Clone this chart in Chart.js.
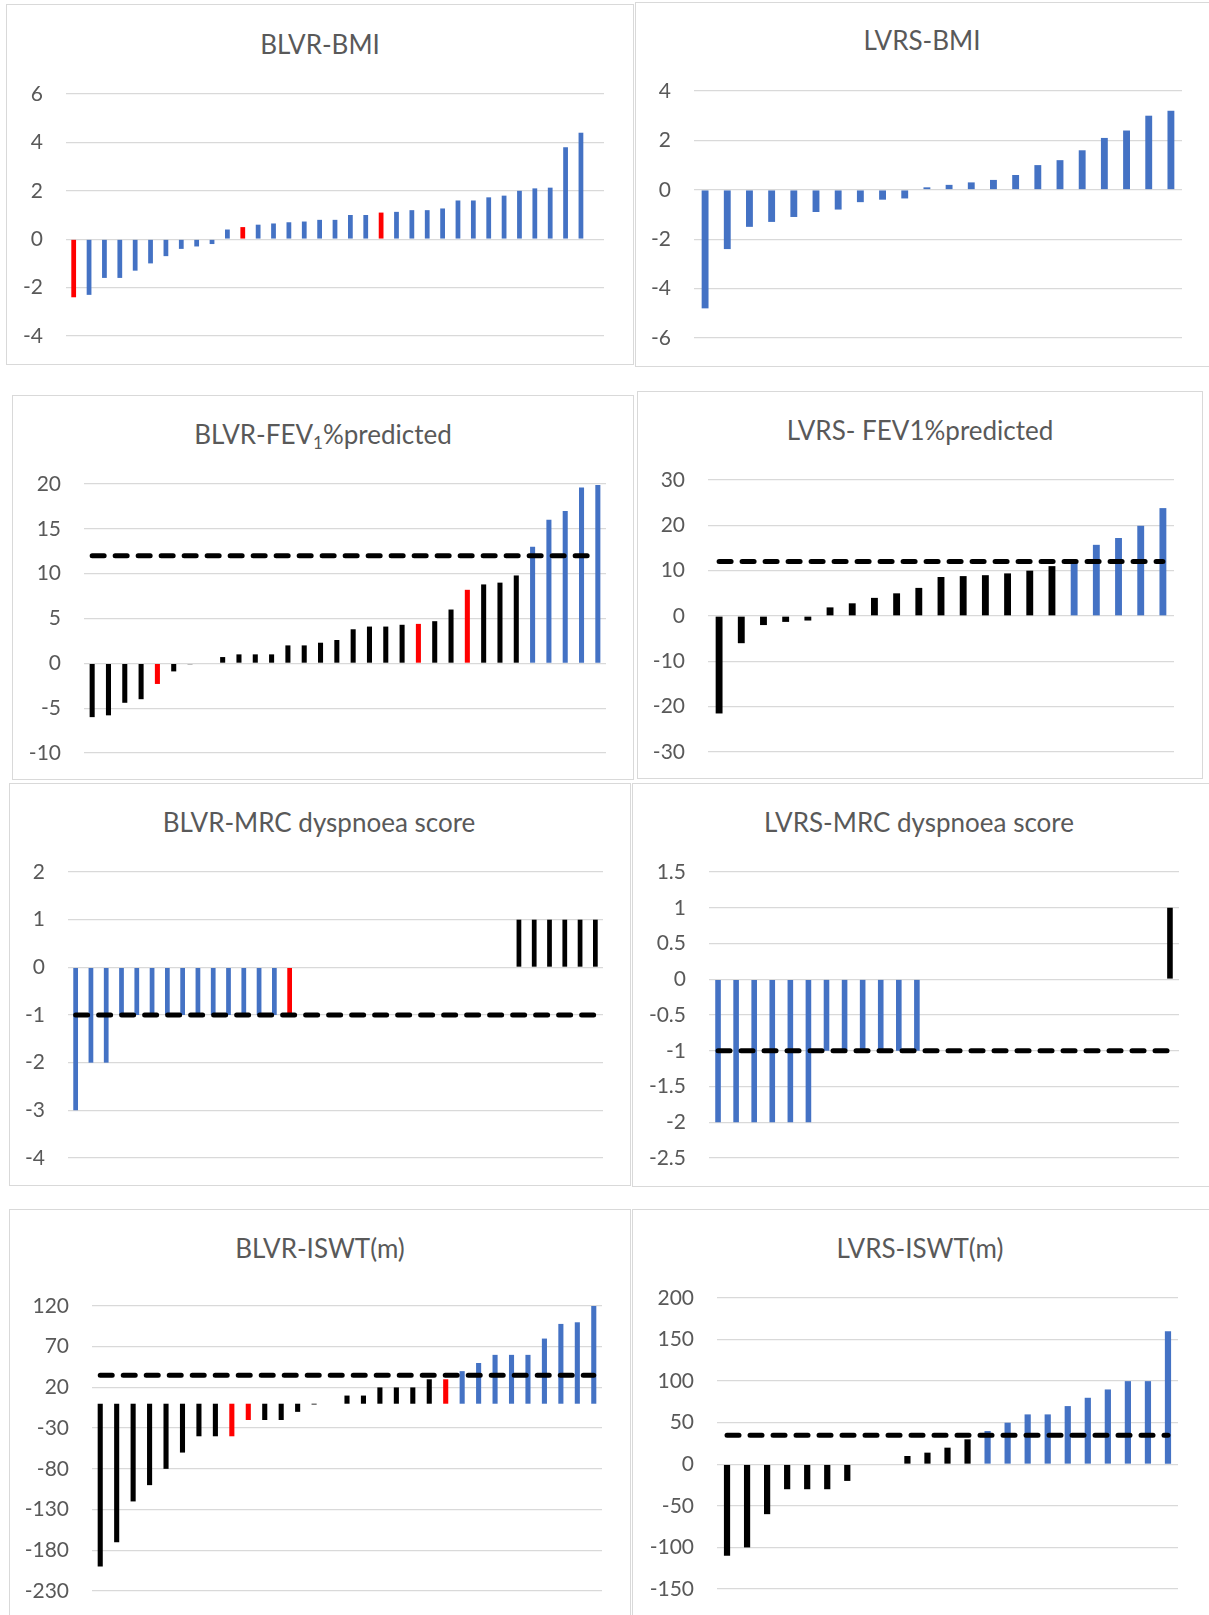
<!DOCTYPE html>
<html><head><meta charset="utf-8">
<script src="https://cdn.jsdelivr.net/npm/chart.js@4.4.1/dist/chart.umd.min.js"></script>
<style>
html,body{margin:0;padding:0;background:#fff;}
body{width:1209px;height:1615px;position:relative;overflow:hidden;font-family:Lato,"Noto Sans",sans-serif;}
.panel{position:absolute;border:1.5px solid #D9D9D9;box-sizing:border-box;}
.title{position:absolute;font-size:26px;color:#595959;height:30px;line-height:30px;white-space:nowrap;transform:translateX(-50%);}
.title sub{font-size:17px;line-height:0;vertical-align:-5px;}
.cw{position:absolute;}
</style></head><body>
<script>
// ---------- DATA ----------
const blvrBmiValues = [-2.4, -2.3, -1.6, -1.6, -1.3, -1.0, -0.7, -0.4, -0.3, -0.2, 0.4, 0.5, 0.6, 0.65, 0.7, 0.73, 0.8, 0.8, 1.0, 1.0, 1.1, 1.13, 1.2, 1.2, 1.27, 1.6, 1.6, 1.73, 1.8, 2.0, 2.1, 2.13, 3.8, 4.4, null];
const blvrBmiGroups = ['R','B','B','B','B','B','B','B','B','B','B','R','B','B','B','B','B','B','B','B','R','B','B','B','B','B','B','B','B','B','B','B','B','B','B'];

const lvrsBmiValues = [-4.8, -2.4, -1.5, -1.3, -1.1, -0.9, -0.8, -0.5, -0.4, -0.35, 0.1, 0.2, 0.3, 0.4, 0.6, 1.0, 1.2, 1.6, 2.1, 2.4, 3.0, 3.2];
const lvrsBmiGroups = ['B','B','B','B','B','B','B','B','B','B','B','B','B','B','B','B','B','B','B','B','B','B'];

const blvrFevValues = [-6.0, -5.8, -4.4, -4.0, -2.3, -0.9, -0.1, 0, 0.7, 1.0, 1.0, 1.0, 2.0, 2.0, 2.3, 2.6, 3.8, 4.1, 4.1, 4.3, 4.4, 4.7, 6.0, 8.2, 8.8, 9.0, 9.8, 13.0, 16.0, 17.0, 19.6, 19.9];
const blvrFevGroups = ['K','K','K','K','R','K','K','K','K','K','K','K','K','K','K','K','K','K','K','K','R','K','K','R','K','K','K','B','B','B','B','B'];

const lvrsFevValues = [-21.5, -6.0, -2.0, -1.3, -1.0, 1.9, 2.8, 4.0, 5.0, 6.2, 8.6, 8.8, 9.0, 9.4, 10.0, 11.0, 12.0, 15.7, 17.2, 19.9, 23.8];
const lvrsFevGroups = ['K','K','K','K','K','K','K','K','K','K','K','K','K','K','K','K','B','B','B','B','B'];

const blvrMrcValues = [-3, -2, -2, -1, -1, -1, -1, -1, -1, -1, -1, -1, -1, -1, -1, 0, 0, 0, 0, 0, 0, 0, 0, 0, 0, 0, 0, 0, 0, 1, 1, 1, 1, 1, 1];
const blvrMrcGroups = ['B','B','B','B','B','B','B','B','B','B','B','B','B','B','R','K','K','K','K','K','K','K','K','K','K','K','K','K','K','K','K','K','K','K','K'];

const lvrsMrcValues = [-2, -2, -2, -2, -2, -2, -1, -1, -1, -1, -1, -1, 0, 0, 0, 0, 0, 0, 0, 0, 0, 0, 0, 0, 0, 1];
const lvrsMrcGroups = ['B','B','B','B','B','B','B','B','B','B','B','B','K','K','K','K','K','K','K','K','K','K','K','K','K','K'];

const blvrIswtValues = [-200, -170, -120, -100, -80, -60, -40, -40, -40, -20, -20, -20, -10, -1, 0, 10, 10, 20, 20, 20, 30, 30, 40, 50, 60, 60, 60, 80, 98, 100, 120];
const blvrIswtGroups = ['K','K','K','K','K','K','K','K','R','R','K','K','K','K','K','K','K','K','K','K','K','R','B','B','B','B','B','B','B','B','B'];

const lvrsIswtValues = [-110, -100, -60, -30, -30, -30, -20, 0, 0, 10, 14, 20, 30, 40, 50, 60, 60, 70, 80, 90, 100, 100, 160];
const lvrsIswtGroups = ['K','K','K','K','K','K','K','K','K','K','K','K','K','B','B','B','B','B','B','B','B','B','B'];

const fevThreshold = 12;
const mrcThreshold = -1;
const iswtThreshold = 35;

const titles = ['BLVR-BMI', 'LVRS-BMI', 'BLVR-FEV<sub>1</sub>%predicted', 'LVRS- FEV1%predicted', 'BLVR-MRC dyspnoea score', 'LVRS-MRC dyspnoea score', 'BLVR-ISWT(m)', 'LVRS-ISWT(m)'];
const yMins  = [-4, -6, -10, -30, -4, -2.5, -230, -150];
const yMaxs  = [6, 4, 20, 30, 2, 1.5, 120, 200];
const ySteps = [2, 2, 5, 10, 1, 0.5, 50, 50];

// ---------- STYLE / LAYOUT ----------
const COLORS = {B:'#4472C4', R:'#FF0000', K:'#000000'};
const panels = [
  {box:[6,4,628,361],    title:[320,44],   plot:[66,604,94,336],     values:blvrBmiValues,  groups:blvrBmiGroups},
  {box:[635,2,590,365],  title:[922,40],   plot:[694,1182,91,338],   values:lvrsBmiValues,  groups:lvrsBmiGroups},
  {box:[12,395,622,385], title:[323,434],  plot:[84,606,484,753],    values:blvrFevValues,  groups:blvrFevGroups, threshold:fevThreshold},
  {box:[637,391,566,388],title:[920,430],  plot:[708,1174,480,752],  values:lvrsFevValues,  groups:lvrsFevGroups, threshold:fevThreshold},
  {box:[9,783,622,403],  title:[319,822],  plot:[68,603,872,1158],   values:blvrMrcValues,  groups:blvrMrcGroups, threshold:mrcThreshold},
  {box:[632,783,590,404],title:[919,822],  plot:[709,1179,872,1158], values:lvrsMrcValues,  groups:lvrsMrcGroups, threshold:mrcThreshold},
  {box:[9,1209,622,420], title:[320,1248], plot:[92,602,1306,1591],  values:blvrIswtValues, groups:blvrIswtGroups, threshold:iswtThreshold},
  {box:[632,1209,590,420],title:[920,1248],plot:[717,1178,1298,1589],values:lvrsIswtValues, groups:lvrsIswtGroups, threshold:iswtThreshold}
];

const AXW = 80, PAD = 16;

panels.forEach((p, k) => {
  const box = document.createElement('div');
  box.className = 'panel';
  box.style.left = p.box[0] + 'px'; box.style.top = p.box[1] + 'px';
  box.style.width = p.box[2] + 'px'; box.style.height = p.box[3] + 'px';
  document.body.appendChild(box);

  const t = document.createElement('div');
  t.className = 'title';
  t.innerHTML = titles[k];
  t.style.left = p.title[0] + 'px';
  t.style.top = (p.title[1] - 15) + 'px';
  document.body.appendChild(t);

  const cw = p.plot[1] - p.plot[0] + AXW;
  const ch = p.plot[3] - p.plot[2] + 2 * PAD;
  const wrap = document.createElement('div');
  wrap.className = 'cw';
  wrap.style.left = (p.plot[0] - AXW) + 'px';
  wrap.style.top = (p.plot[2] - PAD) + 'px';
  wrap.style.width = cw + 'px'; wrap.style.height = ch + 'px';
  const c = document.createElement('canvas');
  c.width = cw; c.height = ch;
  c.style.width = cw + 'px'; c.style.height = ch + 'px';
  wrap.appendChild(c);
  document.body.appendChild(wrap);

  const labels = p.values.map((_, i) => String(i + 1));
  const datasets = [{
    type: 'bar', data: p.values,
    backgroundColor: p.groups.map(g => COLORS[g]),
    barPercentage: 0.31, categoryPercentage: 1, borderWidth: 0, order: 2
  }];
  if (p.threshold !== undefined) {
    datasets.push({
      type: 'line',
      data: [{x: labels[0], y: p.threshold}, {x: labels[labels.length - 1], y: p.threshold}],
      borderColor: '#000000', borderWidth: 5, borderDash: [12, 11], borderCapStyle: 'round',
      pointRadius: 0, fill: false, tension: 0, order: 1
    });
  }
  new Chart(c, {
    type: 'bar',
    data: {labels, datasets},
    options: {
      responsive: false, animation: false, devicePixelRatio: 1,
      layout: {padding: {top: PAD, bottom: PAD, left: 0, right: 0}},
      plugins: {legend: {display: false}, tooltip: {enabled: false}, title: {display: false}},
      scales: {
        x: {display: false},
        y: {
          min: yMins[k], max: yMaxs[k],
          ticks: {stepSize: ySteps[k], padding: 0, color: '#595959',
                  font: {family: 'Lato', size: 21}, callback: v => String(v)},
          grid: {color: '#D9D9D9', lineWidth: 1.3, drawTicks: true, tickLength: 23, tickColor: 'rgba(0,0,0,0)'},
          border: {display: false},
          afterFit: s => { s.width = AXW; }
        }
      }
    }
  });
});
</script>
</body></html>
